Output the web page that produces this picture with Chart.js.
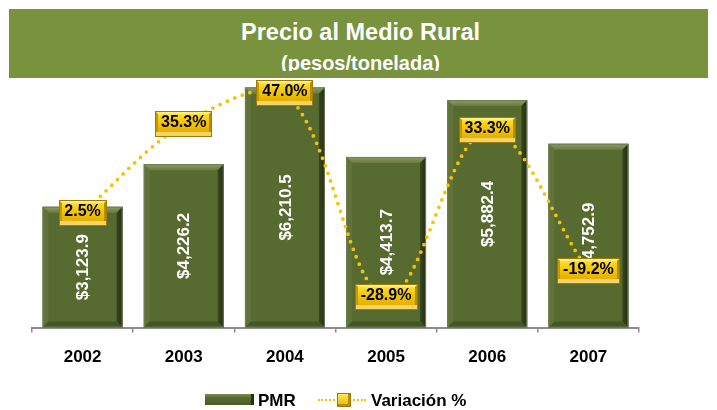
<!DOCTYPE html>
<html>
<head>
<meta charset="utf-8">
<script src="https://cdn.jsdelivr.net/npm/chart.js@4.4.1/dist/chart.umd.min.js"></script>
<style>
  html, body { margin:0; padding:0; background:#fff; }
  body { width:717px; height:410px; position:relative; overflow:hidden; font-family:"Liberation Sans", Arial, sans-serif; }
  #chart { position:absolute; left:0; top:0; }
  #banner { position:absolute; left:9px; top:9px; width:699px; height:69px; background:#78923e; overflow:hidden; color:#fff; font-weight:bold; text-align:center; }
  #banner .t1 { position:absolute; left:4px; right:0; top:12px; font-size:23.5px; line-height:23.5px; white-space:nowrap; }
  #banner .t2 { position:absolute; left:4px; right:0; top:44px; height:18px; overflow:hidden; font-size:20px; line-height:20px; white-space:nowrap; }
  .leg { position:absolute; font-weight:bold; font-size:17px; color:#000; line-height:17px; }
</style>
</head>
<body>
<canvas id="chart" width="717" height="410"></canvas>
<div id="banner"><div class="t1">Precio al Medio Rural</div><div class="t2">(pesos/tonelada)</div></div>
<div id="legend"></div>
<script>
const categories = ['2002', '2003', '2004', '2005', '2006', '2007'];
const pmr = [3123.9, 4226.2, 6210.5, 4413.7, 5882.4, 4752.9];
const variacion = [2.5, 35.3, 47.0, -28.9, 33.3, -19.2];
const seriesNames = ['PMR', 'Variación %'];

function fmtMoney(v) {
  return '$' + v.toLocaleString('en-US', {minimumFractionDigits:1, maximumFractionDigits:1});
}
function fmtPct(v) {
  return v.toFixed(1) + '%';
}

function poly(ctx, pts, fill) {
  ctx.beginPath();
  ctx.moveTo(pts[0][0], pts[0][1]);
  for (let i = 1; i < pts.length; i++) ctx.lineTo(pts[i][0], pts[i][1]);
  ctx.closePath();
  ctx.fillStyle = fill;
  ctx.fill();
}

const barDeco = {
  id: 'barDeco',
  afterDatasetDraw(chart, args) {
    if (args.index !== 0) return;
    const ctx = chart.ctx;
    args.meta.data.forEach((el, i) => {
      const p = el.getProps(['x', 'y', 'base', 'width'], true);
      const l = p.x - p.width / 2, r = p.x + p.width / 2, t = p.y, b = p.base, d = 6;
      ctx.save();
      const gt = ctx.createLinearGradient(0, t, 0, t + d);
      gt.addColorStop(0, '#8d9c66');
      gt.addColorStop(1, '#6a7b40');
      poly(ctx, [[l, t], [r, t], [r - d, t + d], [l + d, t + d]], gt);
      poly(ctx, [[l, t], [l + d, t + d], [l + d, b - d], [l, b]], '#627239');
      poly(ctx, [[l, b], [l + d, b - d], [r - d, b - d], [r, b]], '#465526');
      const gr = ctx.createLinearGradient(r - d, 0, r, 0);
      gr.addColorStop(0, '#3b4820');
      gr.addColorStop(1, '#222b12');
      poly(ctx, [[r, t], [r, b], [r - d, b - d], [r - d, t + d]], gr);
      ctx.strokeStyle = '#6f7d55';
      ctx.lineWidth = 1;
      ctx.strokeRect(l + 0.5, t + 0.5, p.width - 1, b - t - 1);
      ctx.translate(p.x, (t + b) / 2);
      ctx.rotate(-Math.PI / 2);
      ctx.font = 'bold 17px "Liberation Sans", Arial, sans-serif';
      ctx.fillStyle = '#ffffff';
      ctx.textAlign = 'center';
      ctx.textBaseline = 'middle';
      ctx.fillText(fmtMoney(pmr[i]), 0, 1);
      ctx.restore();
    });
  },
  afterDatasetsDraw(chart) {
    const ctx = chart.ctx;
    const meta = chart.getDatasetMeta(1);
    meta.data.forEach((el, i) => {
      const p = el.getProps(['x', 'y'], true);
      const txt = fmtPct(variacion[i]);
      ctx.save();
      ctx.font = 'bold 16px "Liberation Sans", Arial, sans-serif';
      const w = Math.round(ctx.measureText(txt).width + 12), h = 26;
      const x0 = Math.round(p.x - w / 2), y0 = Math.round(p.y - h / 2);
      const g = ctx.createLinearGradient(0, y0, 0, y0 + h);
      g.addColorStop(0, '#ffe85a');
      g.addColorStop(0.3, '#f8cf12');
      g.addColorStop(0.7, '#eab500');
      g.addColorStop(1, '#dca600');
      ctx.fillStyle = g;
      ctx.fillRect(x0, y0, w, h);
      poly(ctx, [[x0, y0], [x0 + w, y0], [x0 + w - 3, y0 + 3], [x0 + 3, y0 + 3]], '#fff07a');
      poly(ctx, [[x0, y0], [x0 + 3, y0 + 3], [x0 + 3, y0 + h - 5], [x0, y0 + h]], '#c59a00');
      poly(ctx, [[x0 + w, y0], [x0 + w, y0 + h], [x0 + w - 3, y0 + h - 5], [x0 + w - 3, y0 + 3]], '#b88c00');
      ctx.fillStyle = '#f4d466';
      ctx.fillRect(x0, y0 + h - 5, w, 5);
      ctx.strokeStyle = '#a27c00';
      ctx.lineWidth = 1;
      ctx.strokeRect(x0 + 0.5, y0 + 0.5, w - 1, h - 1);
      ctx.fillStyle = '#000';
      ctx.textAlign = 'center';
      ctx.textBaseline = 'middle';
      ctx.fillText(txt, p.x, y0 + 11.5);
      ctx.restore();
    });
  }
};

new Chart(document.getElementById('chart'), {
  data: {
    labels: categories,
    datasets: [
      {
        type: 'bar',
        label: seriesNames[0],
        data: pmr,
        backgroundColor: '#576a2f',
        borderWidth: 0,
        categoryPercentage: 1,
        barPercentage: 0.79,
        yAxisID: 'y',
        order: 2
      },
      {
        type: 'line',
        label: seriesNames[1],
        data: variacion,
        borderColor: '#f7c200',
        borderWidth: 3.8,
        borderDash: [0, 8],
        borderCapStyle: 'round',
        pointRadius: 0,
        tension: 0.35,
        fill: false,
        yAxisID: 'y2',
        order: 1
      }
    ]
  },
  options: {
    responsive: false,
    animation: false,
    layout: { padding: { left: 32, right: 78, top: 80, bottom: 27 } },
    plugins: { legend: { display: false }, tooltip: { enabled: false }, title: { display: false } },
    scales: {
      x: {
        grid: { offset: true, drawOnChartArea: false, drawTicks: true, tickLength: 5, color: '#8c8c8c', lineWidth: 1.5 },
        border: { display: true, color: '#8c8c8c', width: 2 },
        ticks: { color: '#000', font: { family: '"Liberation Sans", Arial, sans-serif', size: 17, weight: 'bold' }, padding: 15 }
      },
      y: { display: false, min: 0, max: 6402 },
      y2: { display: false, min: -40.2, max: 51.8 }
    }
  },
  plugins: [barDeco]
});

const legend = document.getElementById('legend');
legend.innerHTML =
  '<div style="position:absolute;left:205px;top:394px;width:49px;height:11px;background:linear-gradient(#7d8c55,#576a2f 35%,#4b5c27);border-right:3px solid #26300f;box-sizing:border-box;"></div>' +
  '<div class="leg" style="left:258px;top:392px;">' + seriesNames[0] + '</div>' +
  '<div style="position:absolute;left:318px;top:399px;width:48px;height:0;border-top:2px dotted #f7c200;"></div>' +
  '<div style="position:absolute;left:337px;top:393px;width:14px;height:14px;background:linear-gradient(#ffe85a,#eab500);border:1px solid #a27c00;box-sizing:border-box;box-shadow:inset -2px -2px 0 #b88c00;"></div>' +
  '<div class="leg" style="left:371px;top:392px;">' + seriesNames[1] + '</div>';
</script>
</body>
</html>
